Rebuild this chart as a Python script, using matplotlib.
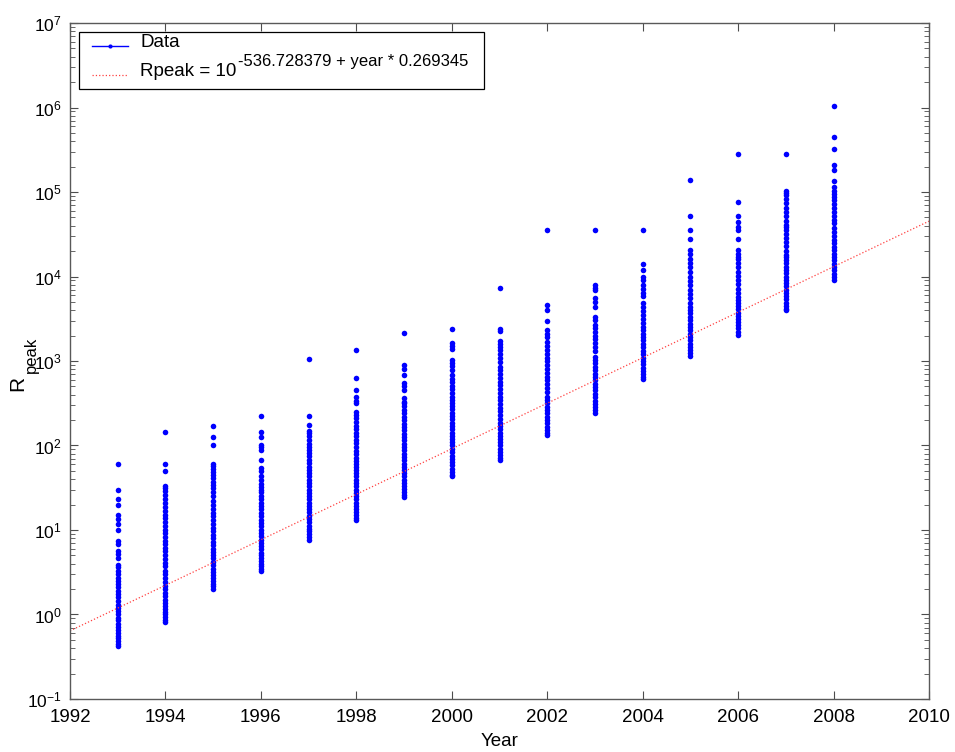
import numpy as np
import matplotlib.pyplot as plt
from matplotlib.font_manager import FontProperties
from matplotlib.offsetbox import AnchoredOffsetbox, VPacker, HPacker, TextArea, DrawingArea
from matplotlib.lines import Line2D
from matplotlib.text import Text

plt.rcParams['font.family'] = ['Liberation Sans', 'DejaVu Sans']
plt.rcParams['mathtext.fontset'] = 'custom'
plt.rcParams['mathtext.rm'] = 'Liberation Sans'
plt.rcParams['mathtext.default'] = 'regular'

# Rpeak values for each list year
years = [1993, 1994, 1995, 1996, 1997, 1998, 1999, 2000,
         2001, 2002, 2003, 2004, 2005, 2006, 2007, 2008]

r1993 = [59.7, 30, 23, 19.8, 15, 13.5, 11.7, 9.9, 7.4, 6.8, 5.6, 5.2, 4.6, 3.9, 3.6,
         3.3, 3.0, 2.7, 2.5, 2.3, 2.1, 1.9, 1.75, 1.6, 1.45, 1.3, 1.2, 1.1, 1.0, 0.92,
         0.85, 0.78, 0.72, 0.66, 0.61, 0.56, 0.52, 0.48, 0.45, 0.42]
r1994 = [143, 60, 50, 33, 31, 29, 26, 23, 21, 18.6, 17, 15, 14, 12.5, 11, 10, 9.2, 8.3,
         7.5, 6.8, 6.2, 5.6, 5.0, 4.5, 4.1, 3.7, 3.3, 3.0, 2.7, 2.4, 2.2, 2.0, 1.8, 1.65,
         1.5, 1.38, 1.27, 1.17, 1.08, 1.0, 0.93, 0.87, 0.82]
r1995 = [169, 127, 100, 60, 57, 53, 49, 45, 41, 37, 34, 31, 28, 25, 22, 19.5, 17.5, 16,
         14.5, 13, 11.8, 10.7, 9.7, 8.8, 8.0, 7.3, 6.6, 6.0, 5.5, 5.0, 4.6, 4.2, 3.8, 3.5,
         3.2, 2.9, 2.7, 2.5, 2.3, 2.15, 2.0]
r1996 = [221, 146, 126, 102, 95, 89, 67, 54, 50, 43, 39, 35, 32, 30, 28, 25.5, 23, 21,
         19, 17.5, 16, 14.5, 13.2, 12, 11, 10, 9.2, 8.4, 7.7, 7.0, 6.4, 5.9, 5.4, 5.0,
         4.6, 4.3, 4.0, 3.7, 3.5, 3.3]
r1997 = [1070, 225, 175, 150, 140, 128, 116, 105, 95, 89, 82, 75, 68, 62, 56, 51, 47,
         43, 39, 36, 33, 30, 27.5, 25, 23, 21, 19.3, 17.7, 16.2, 14.8, 13.5, 12.3, 11.3,
         10.4, 9.6, 8.9, 8.2, 7.6]
r1998 = [1360, 634, 450, 372, 340, 316, 251, 230, 210, 190, 172, 156, 142, 128, 116,
         106, 96, 87, 79, 72, 66, 61, 56, 51, 47, 43, 39, 36, 33, 30, 27.5, 25, 23, 21,
         19.3, 17.7, 16.3, 15, 13.9, 13.0]
r1999 = [2130, 890, 815, 680, 550, 500, 455, 360, 330, 316, 290, 265, 240, 220, 200,
         182, 166, 151, 138, 126, 115, 105, 96, 88, 80, 73, 67, 61, 56, 51, 47, 43, 39.5,
         36, 33, 30.5, 28, 26, 24.5]
r2000 = [2370, 1620, 1500, 1380, 1030, 950, 880, 776, 680, 620, 560, 510, 465, 420,
         380, 350, 320, 292, 267, 244, 223, 204, 186, 170, 155, 142, 130, 119, 109, 100,
         91, 83, 76, 70, 64, 58, 53, 49, 45, 43]
r2001 = [7380, 2400, 2240, 1740, 1600, 1460, 1350, 1200, 1080, 970, 850, 776, 700, 630,
         570, 515, 465, 420, 380, 343, 310, 280, 253, 228, 206, 186, 170, 155, 142, 130,
         119, 109, 100, 92, 84, 77, 71, 67]
r2002 = [35800, 4600, 4000, 3000, 2340, 2100, 1900, 1700, 1520, 1350, 1220, 1100, 990,
         890, 800, 720, 650, 590, 530, 480, 430, 380, 345, 315, 288, 262, 240, 218, 200,
         183, 167, 152, 140, 133]
r2003 = [35800, 7900, 7400, 6900, 5600, 5000, 4400, 3300, 3080, 2700, 2450, 2200, 2000,
         1800, 1620, 1460, 1300, 1130, 1030, 940, 860, 780, 710, 650, 590, 540, 490, 450,
         410, 375, 340, 310, 285, 260, 245]
r2004 = [35800, 14000, 12000, 10000, 9000, 8000, 7100, 6400, 5800, 4900, 4400, 3900,
         3500, 3150, 2800, 2550, 2320, 2100, 1920, 1750, 1600, 1460, 1330, 1210, 1100,
         1000, 910, 830, 760, 700, 650, 610]
r2005 = [138700, 52000, 35500, 27700, 20400, 18500, 16000, 14400, 12800, 11300, 10000,
         8900, 7900, 7000, 6200, 5500, 4900, 4400, 4000, 3650, 3330, 3040, 2770, 2530,
         2310, 2110, 1920, 1750, 1600, 1460, 1340, 1230, 1150]
r2006 = [282000, 75500, 52000, 44000, 39000, 35500, 27700, 20400, 18500, 17000, 16000,
         14300, 12800, 11400, 10200, 9100, 8100, 7200, 6400, 5700, 5300, 4850, 4450,
         4080, 3740, 3430, 3150, 2890, 2650, 2430, 2230, 2050]
r2007 = [282000, 103000, 97000, 91000, 83000, 74000, 65000, 58000, 52000, 46000, 41000,
         39000, 35500, 32000, 28500, 25500, 22700, 20200, 18000, 17000, 15600, 14300,
         13100, 12000, 11000, 10000, 9200, 8400, 7700, 7000, 6400, 5850, 5350, 4900,
         4500, 4150, 4000]
r2008 = [1042000, 452000, 326000, 209000, 182000, 136000, 115000, 104000, 96000, 88000,
         80000, 72000, 65000, 58500, 52500, 47000, 42500, 38000, 34000, 30500, 27400,
         24600, 22500, 20500, 18700, 17000, 15500, 14100, 12900, 11800, 10800, 9900, 9100]

rpeak = [r1993, r1994, r1995, r1996, r1997, r1998, r1999, r2000,
         r2001, r2002, r2003, r2004, r2005, r2006, r2007, r2008]

# fit: Rpeak = 10^(a + year*b)
fit_a = -536.728379
fit_b = 0.269345
fit_years = np.array([1992, 2010])

xs = np.concatenate([[yr] * len(v) for yr, v in zip(years, rpeak)])
ys = np.concatenate(rpeak)

FS = 13.5
DATA_C = 'blue'
FIT_C = '#ff4040'

fig = plt.figure(figsize=(9.55, 7.52), dpi=100)
ax = fig.add_axes([0.0733, 0.0705, 0.8995, 0.8989])

ax.plot(xs, ys, linestyle='none', marker='o', ms=4.0, mew=0, color=DATA_C)
ax.plot(fit_years, 10 ** (fit_a + fit_years * fit_b), linestyle=':', lw=0.9, color=FIT_C)

ax.set_yscale('log')
ax.set_xlim(1992, 2010)
ax.set_ylim(1e-1, 1e7)
ax.set_xticks(np.arange(1992, 2011, 2))
ax.set_yticks([10.0 ** k for k in range(-1, 8)])

ax.tick_params(which='both', direction='in', top=True, right=True, colors='black')
ax.tick_params(axis='x', labelsize=FS, pad=7)
ax.tick_params(axis='y', labelsize=12.5, pad=6)
ax.tick_params(which='major', length=6, color='0.3')
ax.tick_params(which='minor', length=3.5, color='0.3')
for s in ax.spines.values():
    s.set_color('0.35')
    s.set_linewidth(1.0)

ax.set_xlabel('Year', fontsize=FS, labelpad=5)

# y label: R with a big "peak" subscript (MATLAB style)
fig.text(18 / 955, 1 - 383 / 752, 'R', rotation=90, fontsize=15,
         ha='center', va='center')
fig.text(31 / 955, 1 - 355 / 752, 'peak', rotation=90, fontsize=12,
         ha='center', va='center')

# legend box built by hand so the exponent can be bigger than mathtext allows
sup = '-536.728379 + year * 0.269345'
base = 'Rpeak = 10'
rend = fig.canvas.get_renderer()
sup_w = rend.get_text_width_height_descent(sup, FontProperties(size=12),
                                           ismath=False)[0] * 72 / fig.dpi


def handle_box(desc, height, **kw):
    da = DrawingArea(34, height, 0, desc)
    da.add_artist(Line2D([8, 34], [0.5, 0.5], **kw))
    return da


h_data = handle_box(3, 12, color=DATA_C, lw=1)
h_data.add_artist(Line2D([21], [0.5], marker='o', ms=3, mew=0, color=DATA_C))
h_fit = handle_box(8, 19, color=FIT_C, lw=0.9, linestyle=':')

sup_box = DrawingArea(sup_w + 11, 12, 0, 0)
sup_box.add_artist(Text(1, 7, sup, fontsize=12, ha='left', va='baseline'))

row1 = HPacker(children=[h_data, TextArea('Data', textprops=dict(fontsize=FS))],
               align='baseline', pad=0, sep=8.6)
row2 = HPacker(children=[h_fit,
                         HPacker(children=[TextArea(base, textprops=dict(fontsize=FS)), sup_box],
                                 align='baseline', pad=0, sep=0)],
               align='baseline', pad=0, sep=8.6)
box = VPacker(children=[row1, row2], align='left', pad=0, sep=6)
leg = AnchoredOffsetbox(loc='upper left', child=box, pad=0.1, borderpad=0.48,
                        frameon=True, prop=dict(size=FS))
leg.patch.set_edgecolor('black')
leg.patch.set_facecolor('white')
leg.patch.set_linewidth(0.9)
ax.add_artist(leg)

fig.savefig('out.png', dpi=100)
